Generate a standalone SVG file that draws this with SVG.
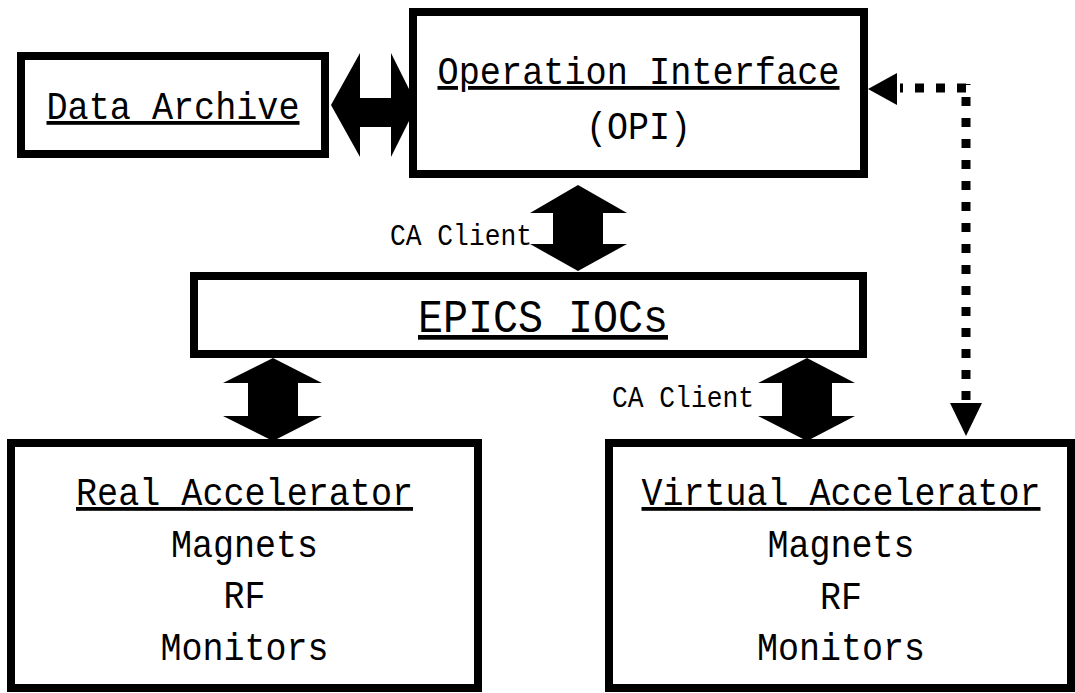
<svg xmlns="http://www.w3.org/2000/svg" width="1075" height="693" viewBox="0 0 1075 693">
<style>
.box{fill:#fff;stroke:#000;stroke-width:8}
.t{font-family:"Liberation Mono","DejaVu Sans Mono",monospace;font-size:38px;fill:#000}
.c{text-anchor:middle}
.u{text-decoration:underline}
.s{font-size:29px}
.big{font-size:47px}
.arr{fill:#000;stroke:none}
.dot{fill:none;stroke:#000;stroke-width:9;stroke-dasharray:9 12}
</style>
<rect width="1075" height="693" fill="#fff"/>
<g id="node-data-archive">
<rect class="box" x="21" y="56" width="304" height="98"/>
<text class="t c u" x="173" y="119" textLength="253" lengthAdjust="spacingAndGlyphs">Data Archive</text>
</g>
<g id="node-opi">
<rect class="box" x="413" y="12" width="451" height="162"/>
<text class="t c u" x="638.5" y="84" textLength="402" lengthAdjust="spacingAndGlyphs">Operation Interface</text>
<text class="t c" x="638.5" y="139" textLength="105" lengthAdjust="spacingAndGlyphs">(OPI)</text>
</g>
<g id="node-epics">
<rect class="box" x="194" y="276" width="669" height="78"/>
<text class="t big u" x="418" y="332" textLength="250" lengthAdjust="spacingAndGlyphs">EPICS IOCs</text>
</g>
<g id="node-real">
<rect class="box" x="11" y="443" width="467" height="245"/>
<text class="t c u" x="244.5" y="505" textLength="337" lengthAdjust="spacingAndGlyphs">Real Accelerator</text>
<text class="t c" x="244.5" y="557" textLength="147" lengthAdjust="spacingAndGlyphs">Magnets</text>
<text class="t c" x="244.5" y="608" textLength="42" lengthAdjust="spacingAndGlyphs">RF</text>
<text class="t c" x="244.5" y="660" textLength="168" lengthAdjust="spacingAndGlyphs">Monitors</text>
</g>
<g id="node-virtual">
<rect class="box" x="609" y="443" width="462" height="245"/>
<text class="t c u" x="841" y="505" textLength="399" lengthAdjust="spacingAndGlyphs">Virtual Accelerator</text>
<text class="t c" x="841" y="557" textLength="147" lengthAdjust="spacingAndGlyphs">Magnets</text>
<text class="t c" x="841" y="609" textLength="42" lengthAdjust="spacingAndGlyphs">RF</text>
<text class="t c" x="841" y="660" textLength="168" lengthAdjust="spacingAndGlyphs">Monitors</text>
</g>
<g id="connectors">
<polygon class="arr" points="331,105 360,53 360,98 391,98 391,53 417,105 391,157 391,127 360,127 360,157"/>
<polygon class="arr" points="578,185 627,213 603,213 603,244 627,244 578,271 530,244 553,244 553,213 530,213"/>
<polygon class="arr" points="273,358 322,383 298,383 298,416 322,416 273,441 223,416 248,416 248,383 223,383"/>
<polygon class="arr" points="807,358 855,383 832,383 832,416 855,416 807,441 758,416 782,416 782,383 758,383"/>
<path class="dot" d="M966 88 H900"/>
<path class="dot" d="M966 400 V84"/>
<polygon class="arr" points="868,89 897,73 897,105"/>
<polygon class="arr" points="966,436 950,403 982,403"/>
<text class="t s" x="390" y="245" textLength="142" lengthAdjust="spacingAndGlyphs">CA Client</text>
<text class="t s" x="612" y="407" textLength="142" lengthAdjust="spacingAndGlyphs">CA Client</text>
</g>
</svg>
